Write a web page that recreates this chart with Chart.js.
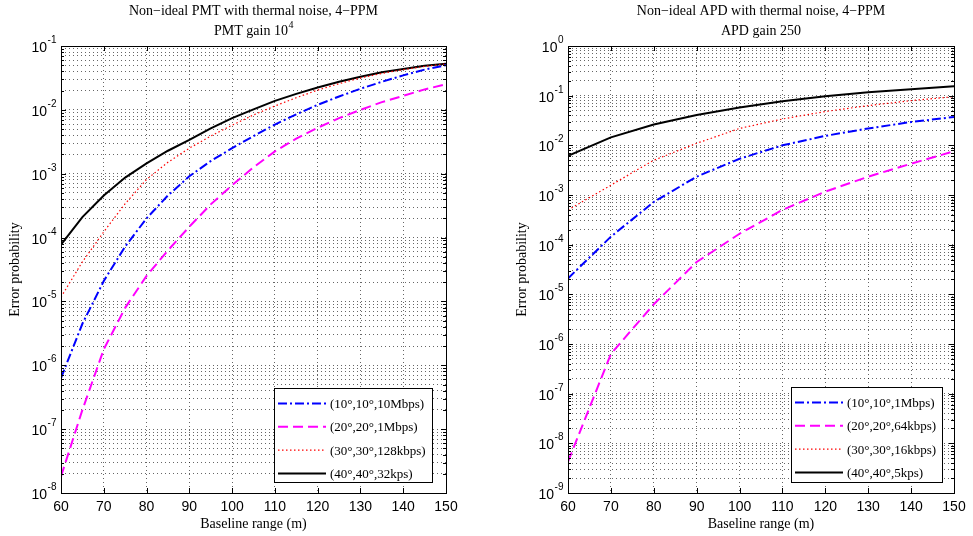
<!DOCTYPE html>
<html>
<head>
<meta charset="utf-8">
<script src="https://cdn.jsdelivr.net/npm/chart.js@4/dist/chart.umd.min.js"></script>
<style>
  html, body { margin: 0; padding: 0; background: #fff; }
  #wrap { position: relative; width: 973px; height: 536px; }
  #wrap canvas { position: absolute; left: 0; top: 0; }
</style>
</head>
<body>
<div id="wrap">
  <canvas id="pmt" width="973" height="536" style="width:973px;height:536px"></canvas>
  <canvas id="apd" width="973" height="536" style="width:973px;height:536px"></canvas>
</div>
<script>
// Baseline range (m)
const pmtRange = [60, 65, 70, 75, 80, 85, 90, 95, 100, 105, 110, 115, 120, 125, 130, 135, 140, 145, 150];
const apdRange = [60, 70, 80, 90, 100, 110, 120, 130, 140, 150];
const xTicks = [60, 70, 80, 90, 100, 110, 120, 130, 140, 150];

// PMT receiver, gain 10^4 — error probability
const pmt10Mbps  = [6.31e-7, 4.47e-6, 2.09e-5, 7.24e-5, 2.0e-4, 4.57e-4, 9.12e-4, 1.58e-3, 2.51e-3, 3.89e-3, 5.89e-3, 8.51e-3, 1.20e-2, 1.62e-2, 2.14e-2, 2.75e-2, 3.47e-2, 4.27e-2, 5.01e-2];
const pmt1Mbps   = [1.82e-8, 2.0e-7, 1.78e-6, 7.94e-6, 2.51e-5, 6.31e-5, 1.48e-4, 3.31e-4, 6.61e-4, 1.26e-3, 2.24e-3, 3.55e-3, 5.25e-3, 7.41e-3, 1.0e-2, 1.32e-2, 1.66e-2, 2.09e-2, 2.51e-2];
const pmt128kbps = [1.17e-5, 4.17e-5, 1.23e-4, 3.39e-4, 8.13e-4, 1.51e-3, 2.51e-3, 3.89e-3, 5.75e-3, 8.32e-3, 1.15e-2, 1.55e-2, 2.04e-2, 2.57e-2, 3.16e-2, 3.72e-2, 4.27e-2, 4.79e-2, 5.25e-2];
const pmt32kps   = [7.76e-5, 2.09e-4, 4.57e-4, 8.71e-4, 1.45e-3, 2.29e-3, 3.39e-3, 5.13e-3, 7.41e-3, 1.02e-2, 1.38e-2, 1.78e-2, 2.24e-2, 2.75e-2, 3.31e-2, 3.89e-2, 4.37e-2, 4.90e-2, 5.25e-2];

// APD receiver, gain 250 — error probability
const apd1Mbps   = [2.09e-5, 1.45e-4, 7.24e-4, 2.34e-3, 5.37e-3, 1.0e-2, 1.55e-2, 2.19e-2, 2.95e-2, 3.72e-2];
const apd64kbps  = [4.27e-9, 6.31e-7, 6.31e-6, 4.47e-5, 1.66e-4, 5.01e-4, 1.17e-3, 2.34e-3, 4.27e-3, 7.59e-3];
const apd16kbps  = [5.01e-4, 1.58e-3, 5.01e-3, 1.10e-2, 2.19e-2, 3.39e-2, 4.79e-2, 6.31e-2, 7.94e-2, 9.55e-2];
const apd5kps    = [6.17e-3, 1.45e-2, 2.63e-2, 4.07e-2, 5.75e-2, 7.76e-2, 9.77e-2, 0.117, 0.135, 0.155];

const pmtLabels = ['(10\u00b0,10\u00b0,10Mbps)', '(20\u00b0,20\u00b0,1Mbps)', '(30\u00b0,30\u00b0,128kbps)', '(40\u00b0,40\u00b0,32kps)'];
const apdLabels = ['(10\u00b0,10\u00b0,1Mbps)', '(20\u00b0,20\u00b0,64kbps)', '(30\u00b0,30\u00b0,16kbps)', '(40\u00b0,40\u00b0,5kps)'];

// line styles shared by both panels (blue dash-dot, magenta dashed, red dotted, black solid)
const styles = [
  { color: '#0000ff', width: 2,   dash: [9, 3, 2, 3] },
  { color: '#ff00ff', width: 2,   dash: [10, 5] },
  { color: '#ff0000', width: 1.2, dash: [1.5, 2.5] },
  { color: '#000000', width: 2,   dash: [] }
];

const SANS = '"Liberation Sans", Arial, sans-serif';
const SERIF = '"Liberation Serif", "Times New Roman", serif';

function logTicks(minExp, maxExp) {
  const out = [];
  for (let e = minExp; e < maxExp; e++) {
    for (let k = 1; k <= 9; k++) out.push({ value: k * Math.pow(10, e), major: k === 1 });
  }
  out.push({ value: Math.pow(10, maxExp), major: true });
  return out;
}

// "10" with a raised exponent, right-aligned at xr
function drawPow(ctx, exp, xr, yc) {
  ctx.font = '14px ' + SANS;
  const wb = ctx.measureText('10').width;
  ctx.font = '10px ' + SANS;
  const we = ctx.measureText(exp).width;
  const x0 = xr - we - wb;
  ctx.textAlign = 'left';
  ctx.textBaseline = 'alphabetic';
  ctx.font = '14px ' + SANS;
  ctx.fillText('10', x0, yc + 6);
  ctx.font = '10px ' + SANS;
  ctx.fillText(exp, x0 + wb + 0.5, yc - 3);
}

function decor(cfg) {
  return {
    id: 'decor',
    afterDraw(chart) {
      const ctx = chart.ctx, a = chart.chartArea;
      const xs = chart.scales.x, ys = chart.scales.y;
      const L = Math.round(a.left), R = Math.round(a.right), T = Math.round(a.top), B = Math.round(a.bottom);
      ctx.save();
      ctx.fillStyle = '#000';
      ctx.strokeStyle = '#000';
      ctx.lineWidth = 1;
      ctx.setLineDash([]);

      // inward tick marks on all four sides
      ctx.beginPath();
      xs.ticks.forEach(t => {
        const px = Math.round(xs.getPixelForValue(t.value)) + 0.5;
        ctx.moveTo(px, B); ctx.lineTo(px, B - 5);
        ctx.moveTo(px, T); ctx.lineTo(px, T + 5);
      });
      ys.ticks.forEach(t => {
        const py = Math.round(ys.getPixelForValue(t.value)) + 0.5;
        const len = t.major ? 5 : 3;
        ctx.moveTo(L, py); ctx.lineTo(L + len, py);
        ctx.moveTo(R, py); ctx.lineTo(R - len, py);
      });
      ctx.stroke();

      // legend
      const lg = cfg.legend;
      ctx.fillStyle = '#fff';
      ctx.fillRect(lg.x, lg.y, lg.w, lg.h);
      ctx.strokeStyle = '#000';
      ctx.strokeRect(lg.x + 0.5, lg.y + 0.5, lg.w, lg.h);
      chart.data.datasets.forEach((ds, i) => {
        const yy = lg.y + 15.5 + i * 23.3;
        ctx.save();
        ctx.strokeStyle = ds.borderColor;
        ctx.lineWidth = ds.borderWidth;
        ctx.setLineDash(ds.borderDash);
        ctx.beginPath();
        ctx.moveTo(lg.x + 4, yy); ctx.lineTo(lg.x + 52, yy);
        ctx.stroke();
        ctx.restore();
        ctx.fillStyle = '#000';
        ctx.font = '13px ' + SERIF;
        ctx.textAlign = 'left';
        ctx.textBaseline = 'middle';
        ctx.fillText(ds.label, lg.x + 56, yy + 1);
      });

      // frame
      ctx.strokeStyle = '#000';
      ctx.lineWidth = 1;
      ctx.strokeRect(L + 0.5, T + 0.5, R - L, B - T);

      // x tick labels
      ctx.fillStyle = '#000';
      ctx.font = '14px ' + SANS;
      ctx.textAlign = 'center';
      ctx.textBaseline = 'middle';
      xs.ticks.forEach(t => ctx.fillText(String(t.value), xs.getPixelForValue(t.value), B + 14));

      // y tick labels at decades
      ys.ticks.forEach(t => {
        if (!t.major) return;
        const e = Math.round(Math.log10(t.value));
        drawPow(ctx, String(e), L - 5, ys.getPixelForValue(t.value));
      });

      // axis titles
      const cx = (L + R) / 2;
      ctx.font = '14px ' + SERIF;
      ctx.textAlign = 'center';
      ctx.textBaseline = 'middle';
      ctx.fillText('Baseline range (m)', cx, B + 31);
      ctx.save();
      ctx.translate(L - 46, (T + B) / 2);
      ctx.rotate(-Math.PI / 2);
      ctx.fillText('Error probability', 0, 0);
      ctx.restore();

      // chart title (two lines)
      ctx.font = '14px ' + SERIF;
      ctx.fillText(cfg.title1, cx, 11);
      if (cfg.title2sup) {
        ctx.font = '14px ' + SERIF;
        const w1 = ctx.measureText(cfg.title2).width;
        ctx.font = '10px ' + SERIF;
        const w2 = ctx.measureText(cfg.title2sup).width;
        const x0 = cx - (w1 + w2) / 2;
        ctx.textAlign = 'left';
        ctx.font = '14px ' + SERIF;
        ctx.fillText(cfg.title2, x0, 31);
        ctx.font = '10px ' + SERIF;
        ctx.fillText(cfg.title2sup, x0 + w1 + 0.5, 25);
      } else {
        ctx.fillText(cfg.title2, cx, 31);
      }
      ctx.restore();
    }
  };
}

function makeChart(id, cfg) {
  const datasets = cfg.series.map((ys, i) => ({
    label: cfg.labels[i],
    data: cfg.range.map((x, j) => ({ x: x, y: ys[j] })),
    borderColor: styles[i].color,
    borderWidth: styles[i].width,
    borderDash: styles[i].dash,
    pointRadius: 0,
    fill: false,
    tension: 0
  }));
  return new Chart(document.getElementById(id), {
    type: 'line',
    data: { datasets: datasets },
    options: {
      responsive: false,
      animation: false,
      devicePixelRatio: 1,
      layout: { padding: cfg.pad },
      plugins: { legend: { display: false }, tooltip: { enabled: false }, title: { display: false } },
      scales: {
        x: {
          type: 'linear', min: 60, max: 150,
          afterBuildTicks: s => { s.ticks = xTicks.map(v => ({ value: v })); },
          ticks: { display: false },
          grid: { color: 'rgba(0,0,0,0.6)', lineWidth: 1, drawTicks: false },
          border: { display: false, dash: [1, 3] },
          afterFit: s => { s.height = 0; }
        },
        y: {
          type: 'logarithmic', min: Math.pow(10, cfg.minExp), max: Math.pow(10, cfg.maxExp),
          afterBuildTicks: s => { s.ticks = logTicks(cfg.minExp, cfg.maxExp); },
          ticks: { display: false, autoSkip: false },
          grid: { color: 'rgba(0,0,0,0.6)', lineWidth: 1, drawTicks: false },
          border: { display: false, dash: [1, 3] },
          afterFit: s => { s.width = 0; }
        }
      }
    },
    plugins: [decor(cfg)]
  });
}

makeChart('pmt', {
  range: pmtRange,
  series: [pmt10Mbps, pmt1Mbps, pmt128kbps, pmt32kps],
  labels: pmtLabels,
  minExp: -8, maxExp: -1,
  pad: { left: 61, right: 527, top: 46, bottom: 43 },
  legend: { x: 274, y: 388, w: 158, h: 94 },
  title1: 'Non\u2212ideal PMT with thermal noise, 4\u2212PPM',
  title2: 'PMT gain 10', title2sup: '4'
});

makeChart('apd', {
  range: apdRange,
  series: [apd1Mbps, apd64kbps, apd16kbps, apd5kps],
  labels: apdLabels,
  minExp: -9, maxExp: 0,
  pad: { left: 568, right: 19, top: 46, bottom: 43 },
  legend: { x: 791, y: 387, w: 151, h: 95 },
  title1: 'Non\u2212ideal APD with thermal noise, 4\u2212PPM',
  title2: 'APD gain 250', title2sup: ''
});
</script>
</body>
</html>
